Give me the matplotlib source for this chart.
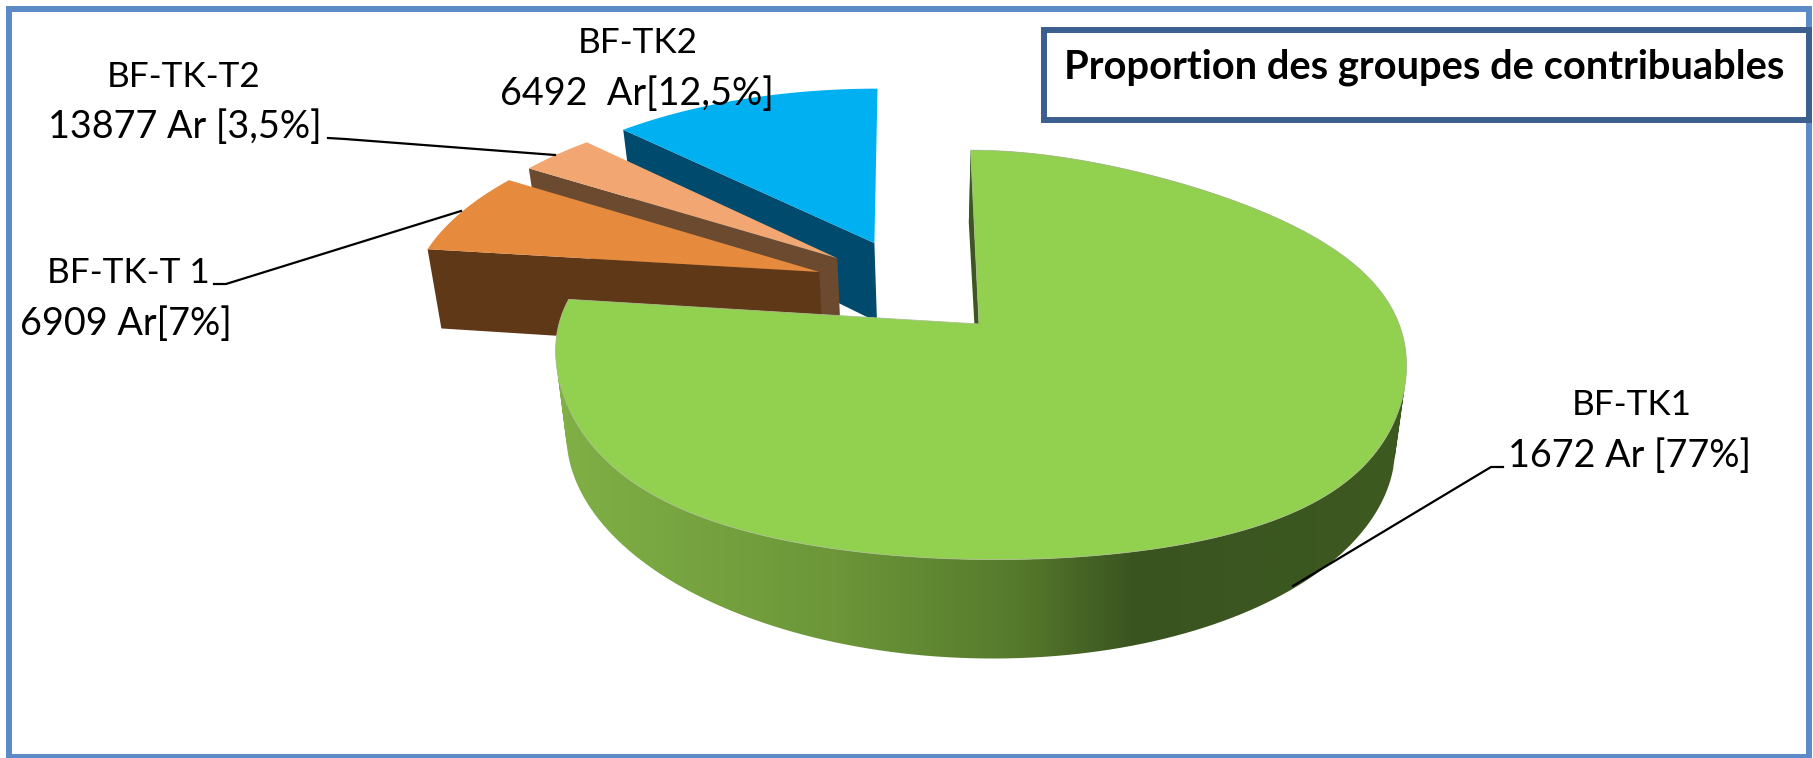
import numpy as np
import matplotlib
matplotlib.use("Agg")
import matplotlib.pyplot as plt
from matplotlib.colors import LinearSegmentedColormap
from matplotlib.patches import PathPatch, Polygon, Rectangle
from matplotlib.path import Path

# data, clockwise from the top of the pie
groups = ["BF-TK1", "BF-TK-T 1", "BF-TK-T2", "BF-TK2"]
shares = [77, 7, 3.5, 12.5]
value_labels = ["1672 Ar [77%]", "6909 Ar[7%]", "13877 Ar [3,5%]", "6492  Ar[12,5%]"]
title = "Proportion des groupes de contribuables"

# styles
top_colors = ["#92d050", "#e68a3e", "#f2a772", "#00b0f0"]
face_colors = ["#3b5620", "#5f3817", "#6b4a30", "#004a6e"]
# how far each slice is pulled out of the pie, in unit-circle coordinates
offsets = [(0, 0), (-0.388, 0.271), (-0.345, 0.346), (-0.253, 0.431)]

# perspective of the pie plane, in pixels
CX, CY = 979, 324
A, B, K, SHEAR = 420, 200, 0.151, -12
DEPTH, SHRINK = 84, 0.975


def project(px, py, egg=False):
    """Unit-circle plane to picture pixels. Returns the top ring and the bottom ring."""
    w = 1 + K * py
    sx = (A * px + SHEAR * py) / w
    sy = B * py / w
    bottom = np.column_stack([CX + sx * SHRINK, CY - sy + DEPTH / w])
    if egg:
        # the top of the big slice is fatter at the front and narrower at the back
        sx = sx * (1 - 0.2 * py ** 3)
    top = np.column_stack([CX + sx, CY - sy])
    return top, bottom


def slice_points(start, end, offset, egg=False):
    theta = np.radians(np.linspace(start, end, 200))
    px = np.sin(theta) + offset[0]
    py = np.cos(theta) + offset[1]
    return project(px, py, egg)


def apex_points(offset):
    return project(np.array([offset[0]]), np.array([offset[1]]))


def wall_path(top, bottom):
    """One quad per arc step between the two rings, all wound the same way."""
    verts, codes = [], []
    for k in range(len(top) - 1):
        quad = np.array([top[k], top[k + 1], bottom[k + 1], bottom[k]])
        x, y = quad[:, 0], quad[:, 1]
        if np.dot(x, np.roll(y, -1)) - np.dot(y, np.roll(x, -1)) < 0:
            quad = quad[::-1]
        verts.extend(quad)
        verts.append(quad[0])
        codes.extend([Path.MOVETO, Path.LINETO, Path.LINETO, Path.LINETO, Path.CLOSEPOLY])
    return Path(np.array(verts), codes)


fig = plt.figure(figsize=(18.13, 7.58), dpi=100)
ax = fig.add_axes([0, 0, 1, 1])
ax.set_xlim(0, 1813)
ax.set_ylim(758, 0)
ax.axis("off")
plt.rcParams["font.family"] = ["Lato", "DejaVu Sans"]

bounds = np.concatenate([[0], np.cumsum(shares)]) * 3.6

# the small slices first, from the back, the green one goes on top of them
for z, i in enumerate([3, 2, 1]):
    top, bottom = slice_points(bounds[i], bounds[i + 1], offsets[i])
    apex_top, apex_bottom = apex_points(offsets[i])
    cut = np.vstack([top[:1], apex_top, apex_bottom, bottom[:1]])
    ax.add_patch(Polygon(cut, closed=True, fc=face_colors[i], ec="none", zorder=z + 1))
    ax.add_patch(Polygon(np.vstack([apex_top, top]), closed=True, fc=top_colors[i],
                         ec="none", zorder=z + 1.5))

# big slice: side wall with a gradient, then the inner wall and the top
top, bottom = slice_points(bounds[0], bounds[1], offsets[0], egg=True)
apex_top, apex_bottom = apex_points(offsets[0])
side_cmap = LinearSegmentedColormap.from_list(
    "side", [(0, "#80b046"), (0.33, "#6c9639"), (0.54, "#567a2c"), (0.68, "#3a5420"), (1, "#3d5a20")])
gradient = np.linspace(0, 1, 512).reshape(1, -1)
img = ax.imshow(gradient, cmap=side_cmap, extent=(555, 1408, 758, 0), aspect="auto", zorder=5)
clip = PathPatch(wall_path(top, bottom), fc="none", ec="none", transform=ax.transData)
ax.add_patch(clip)
img.set_clip_path(clip)
ax.set_xlim(0, 1813)
ax.set_ylim(758, 0)

inner = np.vstack([top[:1], apex_top, apex_bottom, bottom[:1]])
ax.add_patch(Polygon(inner, closed=True, fc="#3b5620", ec="none", zorder=5.2))
ax.add_patch(Polygon(np.vstack([apex_top, top]), closed=True, fc=top_colors[0],
                     ec="#a9c08c", lw=0.6, zorder=6))

# leader lines
ax.plot([1503, 1491, 1293], [467, 467, 586], color="black", lw=1.6, zorder=7)
ax.plot([214, 226, 461], [284, 284, 211], color="black", lw=1.6, zorder=7)
ax.plot([328, 345, 555], [138, 139, 155], color="black", lw=1.6, zorder=7)

# labels: name line and value line
label_pos = [(1632, 415, 1630, 467), (128, 283, 126, 335), (184, 87, 185, 138), (638, 53, 637, 105)]
for name, value, (x1, y1, x2, y2) in zip(groups, value_labels, label_pos):
    ax.text(x1, y1, name, fontsize=25.3, ha="center", va="baseline", color="black", zorder=8)
    ax.text(x2, y2, value, fontsize=27.2, ha="center", va="baseline", color="black", zorder=8)

# outer frame and title box
ax.add_patch(Rectangle((9, 8.5), 1799.5, 748.5, fc="none", ec="#5b8bc6", lw=4.3, zorder=9))
ax.add_patch(Rectangle((1044, 29.5), 765, 90, fc="white", ec="#3b5f8f", lw=4.3, zorder=9))
ax.text(1424, 78, title, fontsize=28.7, fontweight="bold", ha="center", va="baseline",
        color="black", zorder=10)

fig.savefig("out.png", dpi=100)
